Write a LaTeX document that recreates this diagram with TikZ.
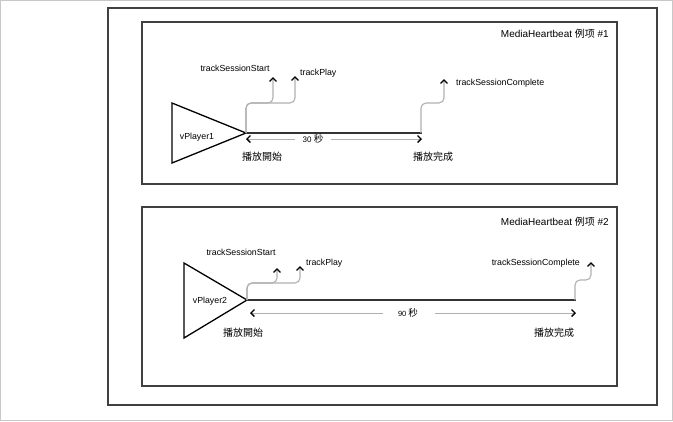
\documentclass[tikz,border=0pt]{standalone}
\usepackage{fontspec}
\setmainfont{Liberation Sans}
\newfontfamily\cjk{Noto Sans CJK TC}
\usetikzlibrary{arrows.meta}
\definecolor{boxline}{HTML}{404040}
\definecolor{connline}{HTML}{B0B0B0}
\definecolor{frameline}{HTML}{C8C8C8}
\tikzset{
  panel/.style={draw=boxline, line width=1.4pt},
  player/.style={draw=black, line width=1.3pt},
  timeline/.style={draw=boxline!80!black, line width=2.2pt},
  conn/.style={draw=connline, line width=1.1pt, rounded corners=5pt,
    -{Straight Barb[length=3.5pt,width=7pt,line width=1.4pt,color=black]}},
  dim/.style={draw=connline, line width=1pt,
    -{Straight Barb[length=3.5pt,width=7pt,line width=1.4pt,color=black]}},
  lbl/.style={font=\fontsize{8.8}{10}\selectfont, inner sep=0pt},
  cjklbl/.style={font=\fontsize{10}{12}\selectfont\cjk, inner sep=0pt},
  ttl/.style={font=\fontsize{10}{11}\selectfont, inner sep=0pt, anchor=east},
}
\begin{document}
\begin{tikzpicture}[x=1pt,y=-1pt]
\useasboundingbox (0,0) rectangle (673,421);
\draw[frameline, line width=1pt] (0.5,0.5) rectangle (672.5,420.5);
% outer box
\draw[panel] (108,8) rectangle (657,405);
% panels
\draw[panel] (142,22) rectangle (617,184);
\draw[panel] (142,207) rectangle (617,386);
\node[ttl] (t1) at (609,34) {MediaHeartbeat {\cjk 例项} \#1};
\node[ttl] (t2) at (609,222) {MediaHeartbeat {\cjk 例项} \#2};

% ---------- panel 1 ----------
\coordinate (A1) at (246,133);
\coordinate (E1) at (422,133);
\draw[player] (172,103) -- (A1) -- (172,163) -- cycle;
\node[lbl] (vp1) at (197,137) {vPlayer1};
\draw[timeline] (A1) -- (E1);
\coordinate (s1) at (273,77);
\coordinate (p1) at (295,76);
\coordinate (c1) at (444,79);
\draw[conn] (A1) |- (273,103) -- (s1);
\draw[conn] (A1) |- (295,103) -- (p1);
\draw[conn] (421,133) |- (444,103) -- (c1);
\node[lbl] (ss1) at (235,68) {trackSessionStart};
\node[lbl, anchor=west] (tp1) at (300,73) {trackPlay};
\node[lbl, anchor=west] (tc1) at (456,83) {trackSessionComplete};
\node[inner sep=0pt, font=\fontsize{8}{10}\selectfont] (d1) at (313,139) {30 {\cjk\fontsize{9.5}{10}\selectfont 秒}};
\coordinate (d1l) at (246,139);
\coordinate (d1r) at (422,139);
\draw[dim] (295,139) -- (d1l);
\draw[dim] (331,139) -- (d1r);
\node[cjklbl] (st1) at (262,157) {播放開始};
\node[cjklbl] (en1) at (433,157) {播放完成};

% ---------- panel 2 ----------
\coordinate (A2) at (247,300);
\coordinate (E2) at (576,300);
\draw[player] (184,263) -- (A2) -- (184,338) -- cycle;
\node[lbl] (vp2) at (210,301) {vPlayer2};
\draw[timeline] (A2) -- (E2);
\coordinate (s2) at (277,268);
\coordinate (p2) at (300,266);
\coordinate (c2) at (591,262);
\draw[conn] (A2) |- (277,283) -- (s2);
\draw[conn] (A2) |- (300,283) -- (p2);
\draw[conn] (575,300) |- (591,280) -- (c2);
\node[lbl] (ss2) at (241,252) {trackSessionStart};
\node[lbl, anchor=west] (tp2) at (306,263) {trackPlay};
\node[lbl, anchor=east] (tc2) at (580,263) {trackSessionComplete};
\node[inner sep=0pt, font=\fontsize{7.5}{10}\selectfont] (d2) at (408,313) {90 {\cjk\fontsize{9.5}{10}\selectfont 秒}};
\coordinate (d2l) at (250,313);
\coordinate (d2r) at (576,313);
\draw[dim] (383,313) -- (d2l);
\draw[dim] (435,313) -- (d2r);
\node[cjklbl] (st2) at (243,333) {播放開始};
\node[cjklbl] (en2) at (554,333) {播放完成};
\end{tikzpicture}
\end{document}
